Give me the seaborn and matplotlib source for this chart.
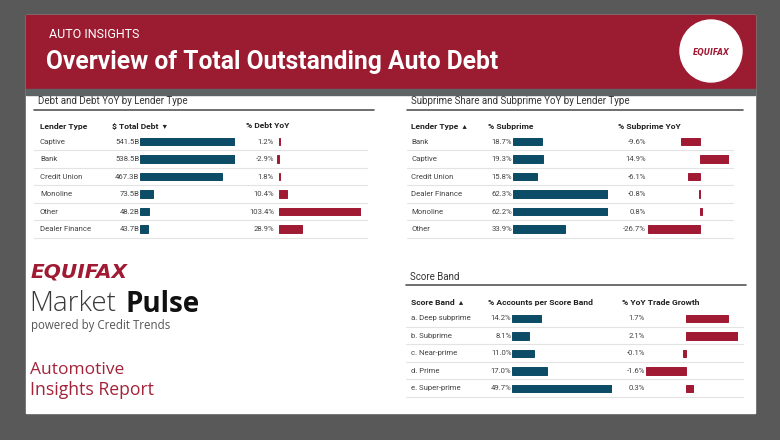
import matplotlib
matplotlib.use("Agg")
import matplotlib.pyplot as plt
import seaborn as sns
from matplotlib.patches import Rectangle, Circle

# ---- data ----
debt_lenders = ["Captive", "Bank", "Credit Union", "Monoline", "Other", "Dealer Finance"]
total_debt = [541.5, 538.5, 467.3, 73.5, 48.2, 43.7]
debt_yoy = [1.2, -2.9, 1.8, 10.4, 103.4, 28.9]

sub_lenders = ["Bank", "Captive", "Credit Union", "Dealer Finance", "Monoline", "Other"]
pct_subprime = [18.7, 19.3, 15.8, 62.3, 62.2, 33.9]
subprime_yoy = [-9.6, 14.9, -6.1, -0.8, 0.8, -26.7]

score_bands = ["a. Deep subprime", "b. Subprime", "c. Near-prime", "d. Prime", "e. Super-prime"]
pct_accounts = [14.2, 8.1, 11.0, 17.0, 49.7]
trade_growth = [1.7, 2.1, -0.1, -1.6, 0.3]

# ---- style ----
sns.set_theme(style="white")
plt.rcParams["font.family"] = ["Roboto", "DejaVu Sans"]

W, H = 780, 440
BG = "#595959"
BANNER = "#9b1b31"
RED = "#a01a33"
TEAL = "#0d4c66"
TXT = "#444444"
HDR = "#222222"
BODY_FS = 5.6
HEAD_FS = 6.1

fig = plt.figure(figsize=(W / 100, H / 100), dpi=100)
fig.patch.set_facecolor(BG)

bg = fig.add_axes([0, 0, 1, 1])
bg.set_xlim(0, W)
bg.set_ylim(H, 0)
bg.axis("off")

# card + banner
bg.add_patch(Rectangle((26, 15), 729, 398, color="white", zorder=0))
bg.add_patch(Rectangle((26, 15), 729, 74, color=BANNER, zorder=1))
bg.add_patch(Rectangle((26, 89), 729, 6, color="#5e6366", zorder=1))
bg.add_patch(Circle((711, 51), 31, color="white", zorder=2))
bg.text(711, 52, "EQUIFAX", color=RED, fontsize=5.5, fontweight="bold", style="italic",
        family="DejaVu Sans", ha="center", va="center", zorder=3)

bg.text(49, 34, "AUTO INSIGHTS", color="white", fontsize=9, ha="left", va="center")
bg.text(46, 62, "Overview of Total Outstanding Auto Debt", color="white", fontsize=17.7,
        fontweight="bold", ha="left", va="center")

# branding block
bg.text(31, 272, "EQUIFAX", color=RED, fontsize=14.5, fontweight="heavy", style="italic",
        family="DejaVu Sans", ha="left", va="center")
bg.text(29, 304, "Market", color="#3a3a3a", fontsize=20, fontweight="light",
        family="Open Sans", ha="left", va="center")
bg.text(126, 304, "Pulse", color="#111111", fontsize=20, fontweight="bold",
        family="Open Sans", ha="left", va="center")
bg.text(31, 325, "powered by Credit Trends", color="#555555", fontsize=8.3,
        family="Open Sans", ha="left", va="center")
bg.text(30, 370, "Automotive", color="#a3233a", fontsize=12.5, family="Open Sans",
        ha="left", va="center")
bg.text(30, 390, "Insights Report", color="#a3233a", fontsize=12.7, family="Open Sans",
        ha="left", va="center")


def bar_col(x0, x1, y_first, dy, cats, vals, lo, hi, label_x, fmt):
    n = len(cats)
    top = y_first - dy / 2
    color = TEAL if lo == 0 else RED
    ax = fig.add_axes([x0 / W, 1 - (top + n * dy) / H, (x1 - x0) / W, n * dy / H])
    sns.barplot(x=vals, y=cats, order=cats, orient="h", color=color, saturation=1,
                width=0.43, errorbar=None, edgecolor=color, linewidth=0.7, ax=ax)
    ax.set_xlim(lo, hi)
    ax.set_ylim(n - 0.5, -0.5)
    ax.axis("off")
    for i, v in enumerate(vals):
        bg.text(label_x, y_first + i * dy, fmt.format(v), color=TXT, fontsize=BODY_FS,
                ha="right", va="center")
    return ax


def table(title, title_y, line_x0, line_x1, rule_x1, cat_x, header_y, headers, cats,
          y_first, dy):
    bg.text(line_x0 + 4, title_y, title, color="#333333", fontsize=7.0, ha="left", va="center")
    bg.plot([line_x0, line_x1], [title_y + 9, title_y + 9], color="#555555", lw=1.2)
    for hx, htxt in headers:
        bg.text(hx, header_y, htxt, color=HDR, fontsize=HEAD_FS, fontweight="bold",
                ha="left", va="center")
    for i, c in enumerate(cats):
        y = y_first + i * dy
        bg.text(cat_x, y, c, color=TXT, fontsize=BODY_FS, ha="left", va="center")
        bg.plot([line_x0, rule_x1], [y + 8.7, y + 8.7], color="#e3e3e3", lw=0.8)


# table 1: debt by lender type
table("Debt and Debt YoY by Lender Type", 101.5, 34, 374, 367, 40, 126,
      [(40, "Lender Type"), (112, "$ Total Debt  \u25be"), (246, "% Debt YoY")],
      debt_lenders, 141.7, 17.5)
bar_col(140.3, 235.3, 141.7, 17.5, debt_lenders, total_debt, 0, max(total_debt),
        139.5, "{:.1f}B")
bar_col(276.7, 361.3, 141.7, 17.5, debt_lenders, debt_yoy, min(debt_yoy), max(debt_yoy),
        274, "{:.1f}%")

# table 2: subprime share
table("Subprime Share and Subprime YoY by Lender Type", 101.5, 407, 743, 733, 411, 126,
      [(411, "Lender Type  \u25b4"), (488, "% Subprime"), (618, "% Subprime YoY")],
      sub_lenders, 141.7, 17.5)
bar_col(513.3, 608.3, 141.7, 17.5, sub_lenders, pct_subprime, 0, max(pct_subprime),
        512, "{:.1f}%")
bar_col(647.7, 729.3, 141.7, 17.5, sub_lenders, subprime_yoy, min(subprime_yoy),
        max(subprime_yoy), 646, "{:.1f}%")

# table 3: score band
table("Score Band", 276.5, 406, 746, 743, 411, 302.3,
      [(411, "Score Band  \u25b4"), (488, "% Accounts per Score Band"),
       (622, "% YoY Trade Growth")],
      score_bands, 318.3, 17.5)
bar_col(512.3, 612.3, 318.3, 17.5, score_bands, pct_accounts, 0, max(pct_accounts),
        511.5, "{:.1f}%")
bar_col(646, 738.3, 318.3, 17.5, score_bands, trade_growth, min(trade_growth),
        max(trade_growth), 645, "{:.1f}%")

fig.savefig("out.png", dpi=100, facecolor=fig.get_facecolor())
